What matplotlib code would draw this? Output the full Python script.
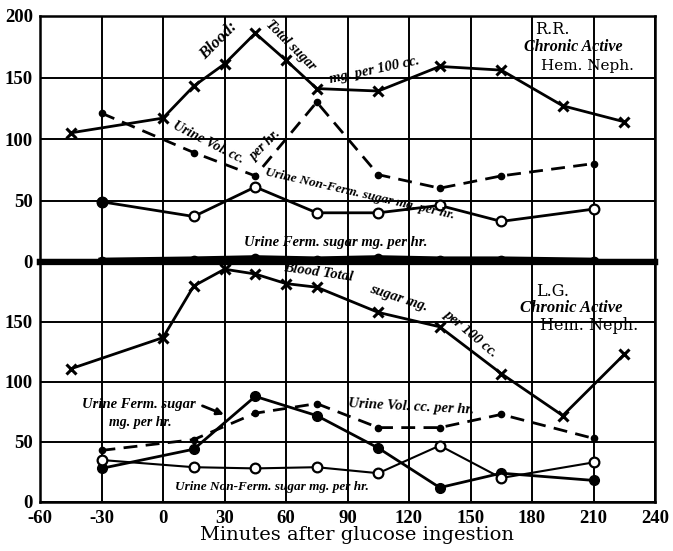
import matplotlib
matplotlib.use("Agg")
import matplotlib.pyplot as plt

# ---- data ----
x_blood = [-45, 0, 15, 30, 45, 60, 75, 105, 135, 165, 195, 225]
x_urine = [-30, 15, 45, 75, 105, 135, 165, 210]

rr_blood = [105, 117, 143, 161, 186, 164, 141, 139, 159, 156, 127, 114]
rr_vol = [121, 89, 70, 130, 71, 60, 70, 80]
rr_nonferm = [49, 37, 61, 40, 40, 46, 33, 43]
rr_ferm = [1, 2, 3, 2, 3, 2, 2, 1]

lg_blood = [111, 137, 180, 194, 190, 182, 179, 158, 146, 107, 72, 123]
lg_vol = [43, 52, 74, 82, 62, 62, 73, 53]
lg_ferm = [28, 44, 88, 72, 45, 12, 24, 18]
lg_nonferm = [35, 29, 28, 29, 24, 47, 20, 33]

x_ticks = [-60, -30, 0, 30, 60, 90, 120, 150, 180, 210, 240]
top_yticks = [0, 50, 100, 150, 200]
bot_yticks = [0, 50, 100, 150]

W, H = 673, 551
fig = plt.figure(figsize=(W / 100, H / 100), dpi=100)
fig.patch.set_facecolor("white")

L, R = 40 / W, 655 / W
ax_top = fig.add_axes([L, 1 - 262 / H, R - L, (262 - 16) / H])
ax_bot = fig.add_axes([L, 1 - 502 / H, R - L, (502 - 262) / H])

tick_font = dict(family="Liberation Serif", weight="bold", size=13.5)
ann = dict(family="Liberation Serif", weight="bold", style="italic", color="black")
plain = dict(family="DejaVu Serif", color="black")

for ax in (ax_top, ax_bot):
    ax.set_xlim(-60, 240)
    ax.set_ylim(0, 200)
    ax.set_xticks(x_ticks)
    ax.set_yticks([0, 50, 100, 150, 200])
    ax.grid(True, color="black", lw=1.4)
    ax.set_axisbelow(True)
    ax.tick_params(length=0, pad=3)
    for s in ax.spines.values():
        s.set_linewidth(1.8)
        s.set_color("black")

ax_top.spines["bottom"].set_linewidth(4.5)
ax_bot.spines["top"].set_linewidth(4.5)
ax_bot.tick_params(axis="x", pad=6)
ax_bot.tick_params(axis="y", pad=5)
ax_top.tick_params(axis="y", pad=5)

ax_top.set_xticklabels([])
ax_top.set_yticklabels([str(v) for v in top_yticks], **tick_font)
ax_bot.set_yticklabels([str(v) for v in bot_yticks] + [""], **tick_font)
ax_bot.set_xticklabels([str(v) for v in x_ticks], **tick_font)
ax_bot.set_xlabel("Minutes after glucose ingestion", family="DejaVu Serif", size=14, labelpad=1)
ax_bot.xaxis.set_label_coords(0.515, -0.1)

lw = 2.0
# ---- top panel (R.R.) ----
ax_top.plot(x_blood, rr_blood, color="black", lw=lw, marker="x", ms=7, mew=2.2, clip_on=False)
ax_top.plot(x_urine, rr_vol, color="black", lw=lw, ls=(0, (5, 3)), marker="o", ms=4.5)
ax_top.plot(x_urine, rr_nonferm, color="black", lw=lw, marker="o", ms=7, mfc="white", mew=1.6)
ax_top.plot(x_urine[:1], rr_nonferm[:1], ls="none", marker="o", ms=7, color="black")
ax_top.plot(x_urine, rr_ferm, color="black", lw=4.5, marker="o", ms=6, clip_on=False)

ax_top.text(27, 180, "Blood:", rotation=45, fontsize=12, ha="center", va="center", **ann)
ax_top.text(62, 176, "Total sugar", rotation=-45, fontsize=10, ha="center", va="center", **ann)
ax_top.text(103, 156, "mg. per 100 cc.", rotation=12, fontsize=10.5, ha="center", va="center", **ann)
ax_top.text(22, 97, "Urine Vol. cc.", rotation=-27, fontsize=10, ha="center", va="center", **ann)
ax_top.text(50, 95, "per hr.", rotation=45, fontsize=10, ha="center", va="center", **ann)
ax_top.text(96, 55, "Urine Non-Ferm. sugar mg. per hr.", rotation=-13, fontsize=9.5,
            ha="center", va="center", **ann)
ax_top.text(84, 16, "Urine Ferm. sugar mg. per hr.", rotation=0, fontsize=10.5,
            ha="center", va="center", **ann)
ax_top.text(190, 189, "R.R.", fontsize=11.5, ha="center", va="center", **plain)
ax_top.text(200, 175, "Chronic Active", fontsize=11.5, ha="center", va="center", **ann)
ax_top.text(207, 159, "Hem. Neph.", fontsize=11, ha="center", va="center", **plain)

# ---- bottom panel (L.G.) ----
ax_bot.plot(x_blood, lg_blood, color="black", lw=lw, marker="x", ms=7, mew=2.2, clip_on=False)
ax_bot.plot(x_urine, lg_vol, color="black", lw=lw, ls=(0, (5, 3)), marker="o", ms=4.5)
ax_bot.plot(x_urine, lg_ferm, color="black", lw=lw, marker="o", ms=7)
ax_bot.plot(x_urine, lg_nonferm, color="black", lw=1.5, marker="o", ms=7, mfc="white", mew=1.6)

ax_bot.text(76, 191, "Blood Total", rotation=-8, fontsize=10.5, ha="center", va="center", **ann)
ax_bot.text(115, 170, "sugar mg.", rotation=-18, fontsize=10.5, ha="center", va="center", **ann)
ax_bot.text(150, 141, "per 100 cc.", rotation=-40, fontsize=10.5, ha="center", va="center", **ann)
ax_bot.text(190, 175, "L.G.", fontsize=11.5, ha="center", va="center", **plain)
ax_bot.text(199, 162, "Chronic Active", fontsize=12, ha="center", va="center", **ann)
ax_bot.text(208, 147, "Hem. Neph.", fontsize=11.5, ha="center", va="center", **plain)
ax_bot.text(-12, 81, "Urine Ferm. sugar", fontsize=10.5, ha="center", va="center", **ann)
ax_bot.text(-11, 66, "mg. per hr.", fontsize=10, ha="center", va="center", **ann)
ax_bot.annotate("", xy=(31, 72), xytext=(18, 81),
                arrowprops=dict(arrowstyle="-|>", color="black", lw=2, mutation_scale=10))
ax_bot.text(121, 79, "Urine Vol. cc. per hr.", rotation=-3, fontsize=10.5, ha="center", va="center", **ann)
ax_bot.text(53, 12.5, "Urine Non-Ferm. sugar mg. per hr.", fontsize=9.5, ha="center", va="center", **ann)

fig.savefig("out.png", dpi=100, facecolor="white")
